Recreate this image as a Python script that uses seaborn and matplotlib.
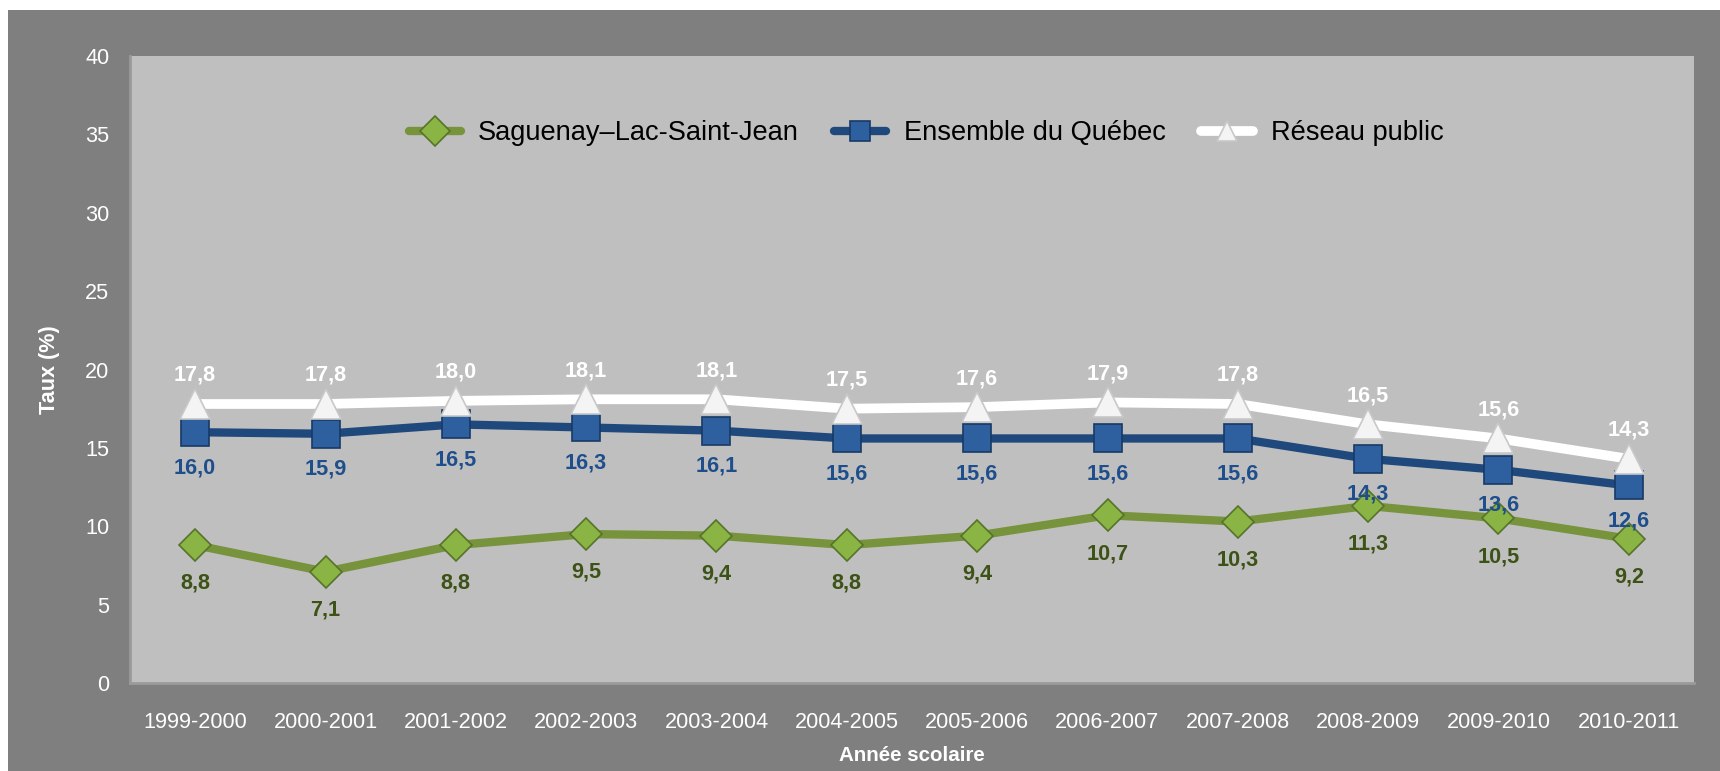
import matplotlib
matplotlib.use("Agg")
import matplotlib.pyplot as plt
import seaborn as sns
import pandas as pd
from matplotlib import font_manager
from matplotlib.patches import Rectangle

years = ["1999-2000", "2000-2001", "2001-2002", "2002-2003", "2003-2004", "2004-2005",
         "2005-2006", "2006-2007", "2007-2008", "2008-2009", "2009-2010", "2010-2011"]
saguenay = [8.8, 7.1, 8.8, 9.5, 9.4, 8.8, 9.4, 10.7, 10.3, 11.3, 10.5, 9.2]
quebec = [16.0, 15.9, 16.5, 16.3, 16.1, 15.6, 15.6, 15.6, 15.6, 14.3, 13.6, 12.6]
reseau = [17.8, 17.8, 18.0, 18.1, 18.1, 17.5, 17.6, 17.9, 17.8, 16.5, 15.6, 14.3]
series_names = ["Saguenay–Lac-Saint-Jean", "Ensemble du Québec", "Réseau public"]
yticks = [0, 5, 10, 15, 20, 25, 30, 35, 40]

sns.set_theme(style="white")
names = {f.name for f in font_manager.fontManager.ttflist}
narrow = "Liberation Sans Narrow" in names
fam = "Liberation Sans Narrow" if narrow else "Liberation Sans"
plt.rcParams["font.family"] = [fam, "DejaVu Sans"]
k = 1.0 if narrow else 0.82  # size compensation for wider font

fig = plt.figure(figsize=(17.2, 7.71), dpi=100)
fig.patch.set_facecolor("white")
fig.patches.append(Rectangle((8 / 1720, 0), 1, 1 - 10 / 771, transform=fig.transFigure,
                             facecolor="#7f7f7f", edgecolor="none", zorder=-10))
ax = fig.add_axes([130 / 1720, 1 - 683 / 771, (1694 - 130) / 1720, (683 - 56) / 771])
ax.set_facecolor("#bfbfbf")

df = pd.DataFrame({"year": years * 3,
                   "x": list(range(len(years))) * 3,
                   "val": saguenay + quebec + reseau,
                   "serie": [series_names[0]] * 12 + [series_names[1]] * 12 + [series_names[2]] * 12})

styles = [
    dict(color="#77933c", marker="D", ms=16, mfc="#8ab443", mec="#55742a", lw=6),
    dict(color="#1f497d", marker="s", ms=20, mfc="#2e5f9e", mec="#173a66", lw=6),
    dict(color="white", marker="^", ms=21, mfc="#f4f4f4", mec="#c8c8c8", lw=7),
]
for name, st in zip(series_names, styles):
    sub = df[df.serie == name]
    sns.lineplot(data=sub, x="x", y="val", ax=ax, color=st["color"], lw=st["lw"],
                 marker=st["marker"], markersize=st["ms"], markerfacecolor=st["mfc"],
                 markeredgecolor=st["mec"], markeredgewidth=1.2, label=name,
                 solid_capstyle="round", zorder=3)

lab_fs = 19 * k
for i, v in enumerate(saguenay):
    ax.annotate(f"{v:.1f}".replace(".", ","), (i, v), xytext=(0, -20), textcoords="offset points",
                ha="center", va="top", color="#3d5217", fontsize=lab_fs, fontweight="bold")
for i, v in enumerate(quebec):
    ax.annotate(f"{v:.1f}".replace(".", ","), (i, v), xytext=(0, -18), textcoords="offset points",
                ha="center", va="top", color="#1f4e8c", fontsize=lab_fs, fontweight="bold")
for i, v in enumerate(reseau):
    ax.annotate(f"{v:.1f}".replace(".", ","), (i, v), xytext=(0, 13), textcoords="offset points",
                ha="center", va="bottom", color="white", fontsize=lab_fs, fontweight="bold")

ax.set_xlim(-0.5, len(years) - 0.5)
ax.set_ylim(0, 40)
ax.set_yticks(yticks)
ax.set_yticklabels([str(t) for t in yticks])
ax.set_xticks(range(len(years)))
ax.set_xticklabels(years)
ax.tick_params(axis="both", colors="white", labelsize=19 * k, length=0)
ax.tick_params(axis="y", pad=15)
ax.tick_params(axis="x", pad=21)
ax.set_xlabel("Année scolaire", color="white", fontsize=18 * k, fontweight="bold", labelpad=9)
ax.set_ylabel("Taux (%)", color="white", fontsize=19 * k, fontweight="bold", labelpad=18)
for s in ["top", "right"]:
    ax.spines[s].set_visible(False)
for s in ["left", "bottom"]:
    ax.spines[s].set_color("#9a9a9a")
    ax.spines[s].set_linewidth(2)

leg = ax.legend(loc="center", bbox_to_anchor=(0.509, 0.877), ncol=3, frameon=False,
                fontsize=19.6, handlelength=1.9, columnspacing=1.3, handletextpad=0.65)
for t in leg.get_texts():
    t.set_color("black")
for h in leg.legend_handles:
    h.set_markersize(15)

fig.savefig("out.png", dpi=100, facecolor=fig.get_facecolor())
